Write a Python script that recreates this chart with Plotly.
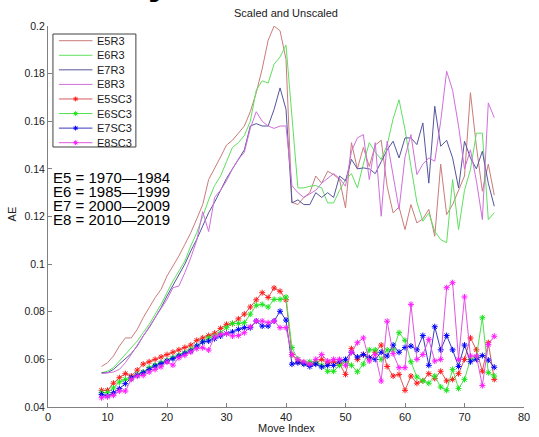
import plotly.graph_objects as go

# move index runs 9..75
move_index = list(range(9, 76))

e5_r3 = [0.057, 0.0586, 0.0614, 0.0656, 0.069, 0.069, 0.0726, 0.0775, 0.0817, 0.0859,
         0.0894, 0.095, 0.0992, 0.1034, 0.1083, 0.1132, 0.119, 0.125, 0.1355, 0.140,
         0.145, 0.150, 0.152, 0.155, 0.158, 0.164, 0.172, 0.182, 0.194, 0.200,
         0.198, 0.186, 0.126, 0.125, 0.128, 0.130, 0.137, 0.134, 0.139, 0.1376,
         0.1355, 0.1236, 0.151, 0.140, 0.149, 0.141, 0.150, 0.152, 0.1327, 0.1215,
         0.124, 0.1145, 0.125, 0.1173, 0.119, 0.123, 0.1117, 0.142, 0.1208, 0.125,
         0.1313, 0.137, 0.172, 0.1495, 0.1306, 0.142, 0.129]

e6_r3 = [0.0544, 0.055, 0.0565, 0.0593, 0.0621, 0.0649, 0.0677, 0.0712, 0.0747, 0.0789,
         0.0831, 0.088, 0.0929, 0.0971, 0.1013, 0.1076, 0.1132, 0.120, 0.127, 0.133,
         0.137, 0.143, 0.149, 0.151, 0.154, 0.160, 0.173, 0.177, 0.176, 0.184,
         0.187, 0.192, 0.160, 0.132, 0.132, 0.1327, 0.133, 0.132, 0.1257, 0.1257,
         0.131, 0.1355, 0.138, 0.132, 0.142, 0.151, 0.147, 0.144, 0.150, 0.161,
         0.169, 0.1565, 0.141, 0.126, 0.118, 0.1215, 0.1138, 0.1103, 0.109, 0.1355,
         0.1145, 0.131, 0.1397, 0.155, 0.155, 0.1187, 0.1216]

e7_r3 = [0.0544, 0.0544, 0.0558, 0.0579, 0.060, 0.0625, 0.0656, 0.0698, 0.0733, 0.0775,
         0.0817, 0.0866, 0.0911, 0.0957, 0.100, 0.1055, 0.1104, 0.116, 0.1216, 0.126,
         0.131, 0.136, 0.140, 0.144, 0.148, 0.158, 0.159, 0.158, 0.158, 0.165,
         0.174, 0.165, 0.1257, 0.127, 0.125, 0.125, 0.130, 0.128, 0.130, 0.128,
         0.137, 0.135, 0.144, 0.140, 0.1404, 0.140, 0.138, 0.143, 0.148, 0.1516,
         0.1446, 0.153, 0.153, 0.1502, 0.1593, 0.134, 0.1663, 0.1495, 0.152, 0.1446,
         0.132, 0.1516, 0.1446, 0.140, 0.1474, 0.134, 0.1243]

e8_r3 = [0.054, 0.0544, 0.0547, 0.0558, 0.0586, 0.0621, 0.066, 0.0698, 0.074, 0.0775,
         0.0817, 0.0852, 0.0901, 0.0908, 0.0964, 0.1027, 0.110, 0.122, 0.1137, 0.128,
         0.131, 0.135, 0.140, 0.144, 0.147, 0.157, 0.164, 0.160, 0.158, 0.157,
         0.158, 0.158, 0.133, 0.130, 0.128, 0.1295, 0.131, 0.134, 0.136, 0.138,
         0.136, 0.1327, 0.1474, 0.153, 0.1544, 0.1355, 0.151, 0.1201, 0.1516, 0.137,
         0.123, 0.145, 0.1544, 0.1376, 0.142, 0.1446, 0.1432, 0.160, 0.181, 0.173,
         0.158, 0.140, 0.148, 0.135, 0.1187, 0.1677, 0.1615]

e5_sc3 = [0.047, 0.047, 0.050, 0.0523, 0.054, 0.053, 0.0555, 0.058, 0.059, 0.060,
          0.061, 0.062, 0.063, 0.064, 0.065, 0.066, 0.068, 0.069, 0.070, 0.071,
          0.073, 0.0747, 0.075, 0.077, 0.079, 0.082, 0.085, 0.088, 0.086, 0.090,
          0.0886, 0.085, 0.062, 0.059, 0.0585, 0.058, 0.0585, 0.060, 0.0585, 0.059,
          0.058, 0.0537, 0.0645, 0.060, 0.062, 0.0605, 0.063, 0.066, 0.057, 0.053,
          0.0537, 0.047, 0.053, 0.050, 0.051, 0.054, 0.052, 0.055, 0.051, 0.0516,
          0.054, 0.060, 0.069, 0.064, 0.055, 0.067, 0.0516]

e6_sc3 = [0.046, 0.046, 0.048, 0.0505, 0.0516, 0.052, 0.0537, 0.0547, 0.0565, 0.0576,
          0.0586, 0.0596, 0.0607, 0.0617, 0.0628, 0.0642, 0.0656, 0.0674, 0.069, 0.0698,
          0.0712, 0.0733, 0.0751, 0.0751, 0.0754, 0.079, 0.0827, 0.0831, 0.082, 0.0852,
          0.0852, 0.0862, 0.065, 0.060, 0.0585, 0.059, 0.059, 0.0575, 0.055, 0.055,
          0.0575, 0.059, 0.0575, 0.0548, 0.058, 0.064, 0.064, 0.060, 0.064, 0.064,
          0.0712, 0.068, 0.059, 0.0526, 0.051, 0.050, 0.053, 0.0484, 0.047, 0.0558,
          0.0478, 0.0516, 0.060, 0.061, 0.0775, 0.0544, 0.053]

e7_sc3 = [0.0453, 0.0446, 0.046, 0.0477, 0.0498, 0.0523, 0.0533, 0.0544, 0.0558, 0.0572,
          0.0582, 0.0593, 0.0603, 0.0614, 0.0625, 0.0635, 0.0656, 0.0673, 0.0677, 0.0687,
          0.0698, 0.0709, 0.0715, 0.0726, 0.0733, 0.0733, 0.0761, 0.074, 0.074, 0.0761,
          0.0802, 0.0765, 0.058, 0.0586, 0.058, 0.057, 0.058, 0.0568, 0.0575, 0.0575,
          0.0593, 0.060, 0.063, 0.061, 0.062, 0.0607, 0.060, 0.063, 0.0614, 0.066,
          0.063, 0.065, 0.0656, 0.064, 0.070, 0.0575, 0.0737, 0.064, 0.070, 0.064,
          0.057, 0.066, 0.059, 0.060, 0.0616, 0.0597, 0.0567]

e8_sc3 = [0.0439, 0.0443, 0.0449, 0.0467, 0.0467, 0.0516, 0.053, 0.0533, 0.0547, 0.0558,
          0.0569, 0.0589, 0.0576, 0.0607, 0.0617, 0.0631, 0.0645, 0.0649, 0.0639, 0.0694,
          0.0705, 0.0708, 0.0698, 0.070, 0.0712, 0.0737, 0.0761, 0.0761, 0.0754, 0.0761,
          0.0733, 0.0733, 0.062, 0.060, 0.059, 0.058, 0.060, 0.062, 0.0593, 0.060,
          0.060, 0.0575, 0.063, 0.067, 0.069, 0.0593, 0.062, 0.0509, 0.076, 0.0624,
          0.0565, 0.0565, 0.0831, 0.060, 0.062, 0.0684, 0.0593, 0.060, 0.0901, 0.0922,
          0.060, 0.0862, 0.0614, 0.0614, 0.049, 0.0662, 0.0697]

x_ticks = [0, 10, 20, 30, 40, 50, 60, 70, 80]
y_ticks = [0.04, 0.06, 0.08, 0.1, 0.12, 0.14, 0.16, 0.18, 0.2]
y_tick_text = ["0.04", "0.06", "0.08", "0.1", "0.12", "0.14", "0.16", "0.18", "0.2"]

era_notes = ["E5 = 1970\u20141984", "E6 = 1985\u20141999",
             "E7 = 2000\u20142009", "E8 = 2010\u20142019"]

# name, values, line colour, marker colour (None = plain line)
series = [
    ("E5R3", e5_r3, "#c97c7a", None),
    ("E6R3", e6_r3, "#5fe05f", None),
    ("E7R3", e7_r3, "#55559c", None),
    ("E8R3", e8_r3, "#cf6fdb", None),
    ("E5SC3", e5_sc3, "#d85a5a", "#ff1a1a"),
    ("E6SC3", e6_sc3, "#4ee04e", "#19e619"),
    ("E7SC3", e7_sc3, "#3a3ac0", "#0000ff"),
    ("E8SC3", e8_sc3, "#e055e0", "#ff1aff"),
]

W, H = 539, 437
L, R, T, B = 48, 9, 26, 30
PW, PH = W - L - R, H - T - B
FONT = "Liberation Sans, Arial, sans-serif"


def fx(px):
    return (px - L) / PW


def fy(py):
    return (H - B - py) / PH


fig = go.Figure()

for name, vals, lcol, mcol in series:
    if mcol is None:
        fig.add_trace(go.Scatter(x=move_index, y=vals, mode="lines", name=name,
                                 line=dict(color=lcol, width=1), showlegend=False))
    else:
        fig.add_trace(go.Scatter(x=move_index, y=vals, mode="lines+markers", name=name,
                                 line=dict(color=lcol, width=1),
                                 marker=dict(symbol="asterisk-open", size=5, color=mcol,
                                             line=dict(color=mcol, width=1)),
                                 showlegend=False))

# hand-drawn legend (matlab style, tight rows) on a hidden overlay axis
shapes = [dict(type="rect", xref="x2", yref="y2", x0=fx(53), x1=fx(137), y0=fy(147), y1=fy(34),
               line=dict(color="#404040", width=1), fillcolor="white", layer="below")]
annotations = []
for i, (name, vals, lcol, mcol) in enumerate(series):
    py = 40.7 + 14.57 * i
    fig.add_trace(go.Scatter(x=[fx(59), fx(93)], y=[fy(py), fy(py)], mode="lines",
                             line=dict(color=lcol, width=1), xaxis="x2", yaxis="y2",
                             showlegend=False, hoverinfo="skip"))
    if mcol is not None:
        fig.add_trace(go.Scatter(x=[fx(76)], y=[fy(py)], mode="markers",
                                 marker=dict(symbol="asterisk-open", size=4, color=mcol,
                                             line=dict(color=mcol, width=1)),
                                 xaxis="x2", yaxis="y2", showlegend=False, hoverinfo="skip"))
    annotations.append(dict(text=name, xref="x2", yref="y2", x=fx(96), y=fy(py),
                            xanchor="left", yanchor="middle", showarrow=False,
                            font=dict(family=FONT, size=11, color="#202020")))

for i, note in enumerate(era_notes):
    annotations.append(dict(text=note, xref="x2", yref="y2", x=fx(51), y=fy(177 + 14.1 * i),
                            xanchor="left", yanchor="middle", showarrow=False,
                            font=dict(family=FONT, size=15, color="black")))

annotations += [
    dict(text="Scaled and Unscaled", xref="paper", yref="paper", x=0.5, y=fy(13),
         xanchor="center", yanchor="middle", showarrow=False,
         font=dict(family=FONT, size=11, color="#202020")),
    dict(text="AE", xref="paper", yref="paper", x=fx(12), y=fy(214), textangle=-90,
         xanchor="center", yanchor="middle", showarrow=False,
         font=dict(family=FONT, size=11, color="#202020")),
    dict(text="Move Index", xref="paper", yref="paper", x=0.5, y=fy(428),
         xanchor="center", yanchor="middle", showarrow=False,
         font=dict(family=FONT, size=11, color="#202020")),
    # clipped tail of the slide heading above the figure
    dict(text="<b>y</b>", xref="paper", yref="paper", x=fx(161), y=fy(4),
         xanchor="center", yanchor="bottom", showarrow=False,
         font=dict(family=FONT, size=40, color="black")),
]

fig.update_layout(
    width=W, height=H,
    margin=dict(l=L, r=R, t=T, b=B),
    paper_bgcolor="white", plot_bgcolor="white",
    showlegend=False,
    shapes=shapes,
    annotations=annotations,
    xaxis=dict(range=[0, 80], tickvals=x_ticks, ticks="inside", ticklen=4,
               tickcolor="#808080", showline=True, linecolor="#808080", linewidth=1,
               showgrid=False, zeroline=False, mirror=False,
               tickfont=dict(family=FONT, size=11, color="#202020")),
    yaxis=dict(range=[0.04, 0.2], tickvals=y_ticks, ticktext=y_tick_text, ticks="inside",
               ticklen=4, tickcolor="#808080", showline=True, linecolor="#808080",
               linewidth=1, showgrid=False, zeroline=False, mirror=False,
               tickfont=dict(family=FONT, size=10.5, color="#202020")),
    xaxis2=dict(overlaying="x", anchor="y2", range=[0, 1], visible=False, fixedrange=True),
    yaxis2=dict(overlaying="y", anchor="x2", range=[0, 1], visible=False, fixedrange=True),
)

fig.write_html("out.html", config={"displayModeBar": False},
               post_script="document.body.style.margin='0';")
